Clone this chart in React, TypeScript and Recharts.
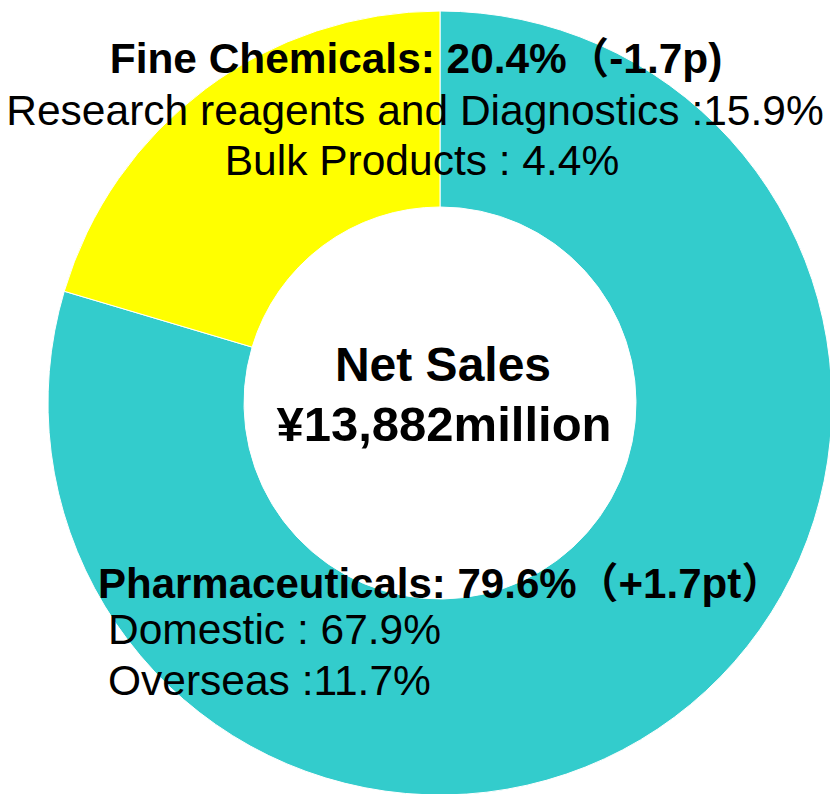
import { Pie, PieChart, Cell } from "recharts";

const segments = ["Pharmaceuticals", "Fine Chemicals"];
const shares = [79.6, 20.4];
const changes = ["（+1.7pt）", "（-1.7p)"];
const colors = ["#33CCCC", "#FFFF00"];

const pharmaLines = ["Domestic : 67.9%", "Overseas :11.7%"];
const fineLines = ["Research reagents and Diagnostics :15.9%", "Bulk Products : 4.4%"];

const centerTitle = "Net Sales";
const centerValue = "¥13,882million";

const FONT = '"Liberation Sans", Arial, "Noto Sans CJK JP", sans-serif';

const data = segments.map((name, i) => ({ name, value: shares[i] }));

// text layer drawn over the chart svg
function Labels() {
  return (
    <svg
      width={830}
      height={794}
      style={{ position: "absolute", left: 0, top: 0, pointerEvents: "none" }}
    >
      <g fontFamily={FONT} fill="#000">
        <text x={416} y={73} textAnchor="middle" fontSize={42.4} fontWeight="bold">
          {`${segments[1]}: ${shares[1]}%${changes[1]}`}
        </text>
        <text x={415} y={125} textAnchor="middle" fontSize={42.5}>
          {fineLines[0]}
        </text>
        <text x={422} y={175} textAnchor="middle" fontSize={42.5}>
          {fineLines[1]}
        </text>

        <text x={443} y={381} textAnchor="middle" fontSize={48} fontWeight="bold">
          {centerTitle}
        </text>
        <text x={444} y={441} textAnchor="middle" fontSize={49} fontWeight="bold">
          {centerValue}
        </text>

        <text x={98} y={598} fontSize={42} fontWeight="bold">
          {`${segments[0]}: ${shares[0]}%${changes[0]}`}
        </text>
        <text x={108} y={644} fontSize={42.5}>
          {pharmaLines[0]}
        </text>
        <text x={108} y={695} fontSize={42.5}>
          {pharmaLines[1]}
        </text>
      </g>
    </svg>
  );
}

export default function App() {
  return (
    <div style={{ position: "absolute", left: 0, top: 0, width: 830, height: 794, background: "#fff" }}>
      <PieChart width={830} height={794} margin={{ top: 0, right: 0, bottom: 0, left: 0 }}>
        <Pie
          data={data}
          dataKey="value"
          cx={440}
          cy={403}
          innerRadius={196}
          outerRadius={392}
          startAngle={90}
          endAngle={-270}
          stroke="#fff"
          strokeWidth={1}
          isAnimationActive={false}
        >
          {data.map((d, i) => (
            <Cell key={d.name} fill={colors[i]} />
          ))}
        </Pie>
      </PieChart>
      <Labels />
    </div>
  );
}
